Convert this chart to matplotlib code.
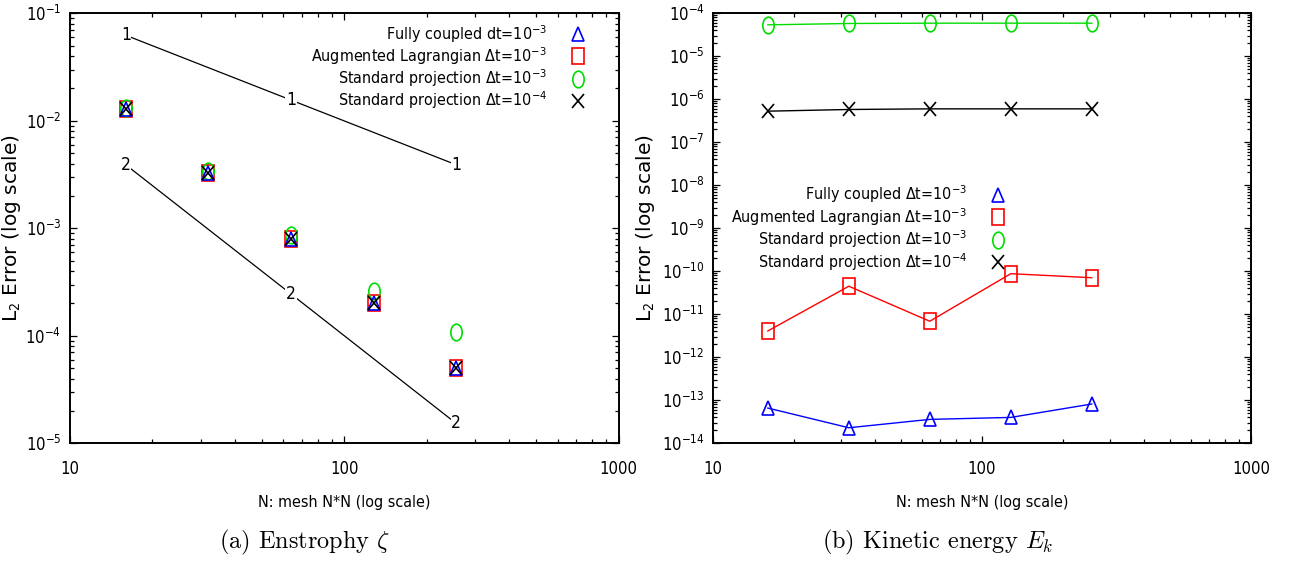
import matplotlib
matplotlib.use("Agg")
import matplotlib.pyplot as plt
from matplotlib import font_manager
from matplotlib.markers import MarkerStyle
from matplotlib.lines import Line2D
from matplotlib.ticker import LogLocator, NullFormatter, FuncFormatter
from matplotlib.transforms import Affine2D

# mesh sizes N
mesh = [16, 32, 64, 128, 256]

# (a) enstrophy errors
ens_fully = [0.013, 0.0033, 8.0e-4, 2.0e-4, 5.0e-5]
ens_auglag = [0.013, 0.0033, 8.0e-4, 2.0e-4, 5.0e-5]
ens_proj3 = [0.0133, 0.0034, 8.7e-4, 2.6e-4, 1.08e-4]
ens_proj4 = [0.013, 0.0033, 8.0e-4, 2.0e-4, 5.0e-5]

# reference slopes drawn on (a)
slope_x = [16, 64, 256]
slope1_y = [0.0625, 0.0156, 0.0039]
slope2_y = [0.0039, 2.45e-4, 1.53e-5]

# (b) kinetic energy errors
ke_fully = [6.6e-14, 2.3e-14, 3.6e-14, 4.0e-14, 8.2e-14]
ke_auglag = [4.1e-12, 4.5e-11, 6.9e-12, 8.8e-11, 7.1e-11]
ke_proj3 = [5.4e-5, 5.8e-5, 5.9e-5, 5.9e-5, 5.9e-5]
ke_proj4 = [5.3e-7, 5.8e-7, 6.0e-7, 6.0e-7, 6.0e-7]

labels_a = [r'Fully coupled dt=$10^{-3}$',
            r'Augmented Lagrangian $\Delta$t=$10^{-3}$',
            r'Standard projection $\Delta$t=$10^{-3}$',
            r'Standard projection $\Delta$t=$10^{-4}$']
labels_b = [r'Fully coupled $\Delta$t=$10^{-3}$',
            r'Augmented Lagrangian $\Delta$t=$10^{-3}$',
            r'Standard projection $\Delta$t=$10^{-3}$',
            r'Standard projection $\Delta$t=$10^{-4}$']

# look for a condensed sans face (gnuplot look), else plain Liberation Sans
fonts = font_manager.fontManager.ttflist
cond = None
for want in ['DejaVu Sans Condensed', 'Liberation Sans Narrow']:
    for f in fonts:
        if f.name == want and f.style == 'normal' and f.weight in (400, 'normal', 'regular', 'book'):
            cond = (f.name, f.stretch)
            break
    if cond:
        break
if cond is None:
    for f in fonts:
        low = f.fname.lower()
        if (('condensed' in low or 'narrow' in low or f.stretch in ('condensed', 'semi-condensed'))
                and 'mono' not in low and 'serif' not in low and 'bold' not in low
                and 'italic' not in low and 'oblique' not in low and 'semi' not in low
                and f.style == 'normal'):
            cond = (f.name, f.stretch)
            break

if cond is not None:
    fam, stretch = cond
    FS = 11.5
else:
    fam, stretch = 'Liberation Sans', 'normal'
    FS = 11

plt.rcParams['font.family'] = fam
plt.rcParams['font.stretch'] = stretch
plt.rcParams['mathtext.fontset'] = 'custom'
plt.rcParams['mathtext.rm'] = f'{fam}:stretch={stretch}'
plt.rcParams['mathtext.it'] = f'{fam}:italic:stretch={stretch}'
plt.rcParams['mathtext.bf'] = f'{fam}:bold:stretch={stretch}'
plt.rcParams['axes.unicode_minus'] = False


def mk(shape, sx):
    return MarkerStyle(shape, transform=Affine2D().scale(sx, 1.0))


# marker style for each series: fully, auglag, proj3, proj4
styles = [
    dict(marker=mk('^', 0.85), ms=10, color='#0000ff'),
    dict(marker=mk('s', 0.75), ms=11, color='#ff0000'),
    dict(marker=mk('o', 0.68), ms=12, color='#00dd00'),
    dict(marker=mk('x', 0.85), ms=10, color='#000000'),
]


def style_axes(ax, ylo, yhi):
    ax.set_xscale('log')
    ax.set_yscale('log')
    ax.set_xlim(10, 1000)
    ax.set_ylim(ylo, yhi)
    ax.xaxis.set_major_locator(LogLocator(base=10, numticks=20))
    ax.xaxis.set_minor_locator(LogLocator(base=10, subs=range(2, 10), numticks=20))
    ax.yaxis.set_major_locator(LogLocator(base=10, numticks=30))
    ax.yaxis.set_minor_locator(LogLocator(base=10, subs=range(2, 10), numticks=30))
    ax.xaxis.set_major_formatter(FuncFormatter(lambda v, p: f'{v:g}'))
    ax.xaxis.set_minor_formatter(NullFormatter())
    ax.yaxis.set_minor_formatter(NullFormatter())
    ax.tick_params(which='both', direction='in', top=True, right=True, width=0.9,
                   labelsize=FS + 0.5)
    ax.tick_params(which='major', length=5)
    ax.tick_params(which='minor', length=3)
    ax.tick_params(axis='x', which='major', pad=12)
    ax.tick_params(axis='y', which='major', pad=6)
    for s in ax.spines.values():
        s.set_linewidth(1.4)
    ax.set_xlabel('N: mesh N*N (log scale)', fontsize=FS)
    ax.set_ylabel(r'L$_2$ Error (log scale)', fontsize=14.5, family='DejaVu Sans',
                  stretch='normal', math_fontfamily='dejavusans')
    ax.xaxis.set_label_coords(0.5, -0.12)


def handles():
    return [Line2D([], [], ls='none', mfc='none', mew=1.2, mec=st['color'],
                   marker=st['marker'], ms=st['ms']) for st in styles]


fig = plt.figure(figsize=(13.01, 5.62), dpi=100)
ax1 = fig.add_axes([0.0536, 0.2112, 0.4219, 0.7651])
ax2 = fig.add_axes([0.548, 0.2112, 0.4135, 0.7651])

# ---- (a) enstrophy ----
ax1.plot(slope_x, slope1_y, color='black', lw=0.9, zorder=1)
ax1.plot(slope_x, slope2_y, color='black', lw=0.9, zorder=1)
for xv, yv in zip(slope_x, slope1_y):
    ax1.text(xv, yv, '1', fontsize=FS + 1, ha='center', va='center', zorder=2,
             bbox=dict(fc='white', ec='none', pad=0.5))
for xv, yv in zip(slope_x, slope2_y):
    ax1.text(xv, yv, '2', fontsize=FS + 1, ha='center', va='center', zorder=2,
             bbox=dict(fc='white', ec='none', pad=0.5))

series_a = [ens_fully, ens_auglag, ens_proj3, ens_proj4]
for idx in [1, 2, 0, 3]:
    st = styles[idx]
    ax1.plot(mesh, series_a[idx], ls='none', marker=st['marker'], ms=st['ms'],
             mfc='none', mec=st['color'], mew=1.2, zorder=3)
style_axes(ax1, 1e-5, 1e-1)
ax1.yaxis.set_label_coords(-0.085, 0.5)
ax1.legend(handles(), labels_a, loc='upper right', bbox_to_anchor=(0.948, 0.977),
           frameon=False, markerfirst=False, fontsize=FS, handlelength=1.5,
           handletextpad=1.19, labelspacing=0.03, borderpad=0, borderaxespad=0)

# ---- (b) kinetic energy ----
series_b = [ke_fully, ke_auglag, ke_proj3, ke_proj4]
for idx in [0, 1, 2, 3]:
    st = styles[idx]
    ax2.plot(mesh, series_b[idx], color=st['color'], lw=1.0, marker=st['marker'],
             ms=st['ms'], mfc='none', mec=st['color'], mew=1.2)
style_axes(ax2, 1e-14, 1e-4)
ax2.yaxis.set_label_coords(-0.104, 0.5)
ax2.legend(handles(), labels_b, loc='upper right', bbox_to_anchor=(0.552, 0.604),
           frameon=False, markerfirst=False, fontsize=FS, handlelength=1.5,
           handletextpad=1.19, labelspacing=0.05, borderpad=0, borderaxespad=0)

# captions
fig.text(305 / 1301, 1 - 542 / 562, r'(a) Enstrophy $\zeta$', family='cmr10',
         stretch='normal', math_fontfamily='cm', fontsize=17.5, ha='center', va='center')
fig.text(938 / 1301, 1 - 542 / 562, r'(b) Kinetic energy $E_k$', family='cmr10',
         stretch='normal', math_fontfamily='cm', fontsize=17.5, ha='center', va='center')

fig.savefig('out.png', dpi=100)
